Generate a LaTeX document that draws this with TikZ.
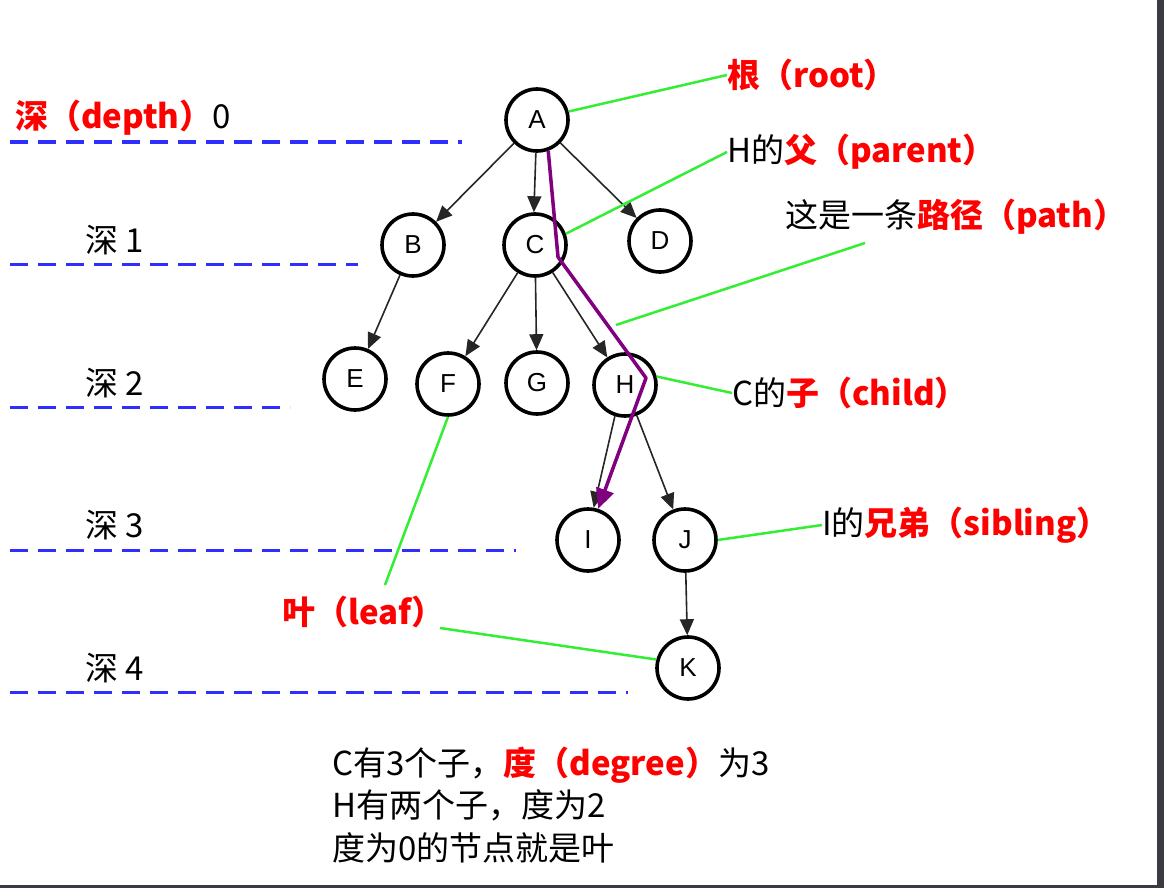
\documentclass[tikz,border=0pt]{standalone}
\usepackage{fontspec}
\setmainfont{Liberation Sans}
\newfontfamily\cjk{Noto Sans CJK SC}
\usetikzlibrary{arrows.meta}
\definecolor{lgreen}{HTML}{33EE33}
\definecolor{dblue}{HTML}{2E2EFF}
\definecolor{pathpurple}{HTML}{800080}
\definecolor{framegray}{HTML}{3A3B42}
\begin{document}
\begin{tikzpicture}[x=1pt,y=-1pt,
  tn/.style={circle,draw,line width=3.6pt,minimum size=62pt,inner sep=0pt,
    font=\fontsize{26}{26}\selectfont},
  edge/.style={line width=1.6pt,draw=black!85,-{Triangle[length=16pt,width=14pt]}},
  depthline/.style={draw=dblue,line width=3pt,dash pattern=on 18pt off 10pt},
  lbl/.style={anchor=west,inner sep=0pt,font=\cjk\fontsize{33}{33}\selectfont},
  glink/.style={draw=lgreen,line width=2.5pt}
]
\useasboundingbox (0,0) rectangle (1164,888);
\fill[white] (0,0) rectangle (1164,888);
\fill[framegray] (1157,0) rectangle (1164,888);
\fill[framegray] (0,885) rectangle (1164,888);

% depth lines
\draw[depthline] (10,142) -- (462,142);
\draw[depthline] (10,264) -- (358,264);
\draw[depthline] (10,407) -- (290,407);
\draw[depthline] (10,550) -- (516,550);
\draw[depthline] (10,692) -- (628,692);

% depth labels
\node[lbl] (d0) at (15,118) {\textcolor{red}{\bfseries 深（depth）}0};
\node[lbl] (d1) at (85,240) {深 1};
\node[lbl] (d2) at (85,383) {深 2};
\node[lbl] (d3) at (85,525) {深 3};
\node[lbl] (d4) at (85,668) {深 4};

% tree nodes
\node[tn] (A) at (537,120) {A};
\node[tn] (B) at (413,245) {B};
\node[tn] (C) at (535,245) {C};
\node[tn] (D) at (660,241) {D};
\node[tn] (E) at (355,379) {E};
\node[tn] (F) at (448,384) {F};
\node[tn] (G) at (537,383) {G};
\node[tn] (H) at (625,385) {H};
\node[tn] (I) at (588,540) {I};
\node[tn] (J) at (685,540) {J};
\node[tn] (K) at (688,668) {K};

% edges
\draw[edge] (A) -- (B);
\draw[edge] (A.-92) -- (C.92);
\draw[edge] (A) -- (D);
\draw[edge] (B) -- (E);
\draw[edge] (C) -- (F);
\draw[edge] (C) -- (G);
\draw[edge] (C) -- (H);
\draw[edge] (H.-108) -- (I.80);
\draw[edge] (H) -- (J);
\draw[edge] (J) -- (K);

% path
\coordinate (p1) at (558,257);
\coordinate (p2) at (646,378);
\coordinate (pm) at (616,325);
\draw[draw=pathpurple,line width=3.5pt,line join=round,
  -{Triangle[length=20pt,width=18pt]}] (A.-70) -- (p1) -- (p2) -- (I.72);

% labels on the right
\node[lbl] (root) at (727,75) {\textcolor{red}{\bfseries 根（root）}};
\node[lbl] (parent) at (727,152) {H的\textcolor{red}{\bfseries 父（parent）}};
\node[lbl] (pathl) at (785,217) {这是一条\textcolor{red}{\bfseries 路径（path）}};
\node[lbl] (child) at (732,393) {C的\textcolor{red}{\bfseries 子（child）}};
\node[lbl] (sib) at (822,525) {I的\textcolor{red}{\bfseries 兄弟（sibling）}};
\node[lbl] (leaf) at (282,612) {\textcolor{red}{\bfseries 叶（leaf）}};

\coordinate (pathend) at (865,243);
\coordinate (leaftop) at (385,585);
\coordinate (leafright) at (440,628);

% green links
\draw[glink] (A.15) -- (root.west);
\draw[glink] (C.20) -- (parent.west);
\draw[glink] (pm) -- (pathend);
\draw[glink] (H.15) -- (child.west);
\draw[glink] (J.east) -- (sib.west);
\draw[glink] (F.south) -- (leaftop);
\draw[glink] (leafright) -- (K.165);

% bottom notes
\node[lbl] (n1) at (332,765) {C有3个子，\textcolor{red}{\bfseries 度（degree）}为3};
\node[lbl] (n2) at (332,805) {H有两个子，度为2};
\node[lbl] (n3) at (332,848) {度为0的节点就是叶};
\end{tikzpicture}
\end{document}
